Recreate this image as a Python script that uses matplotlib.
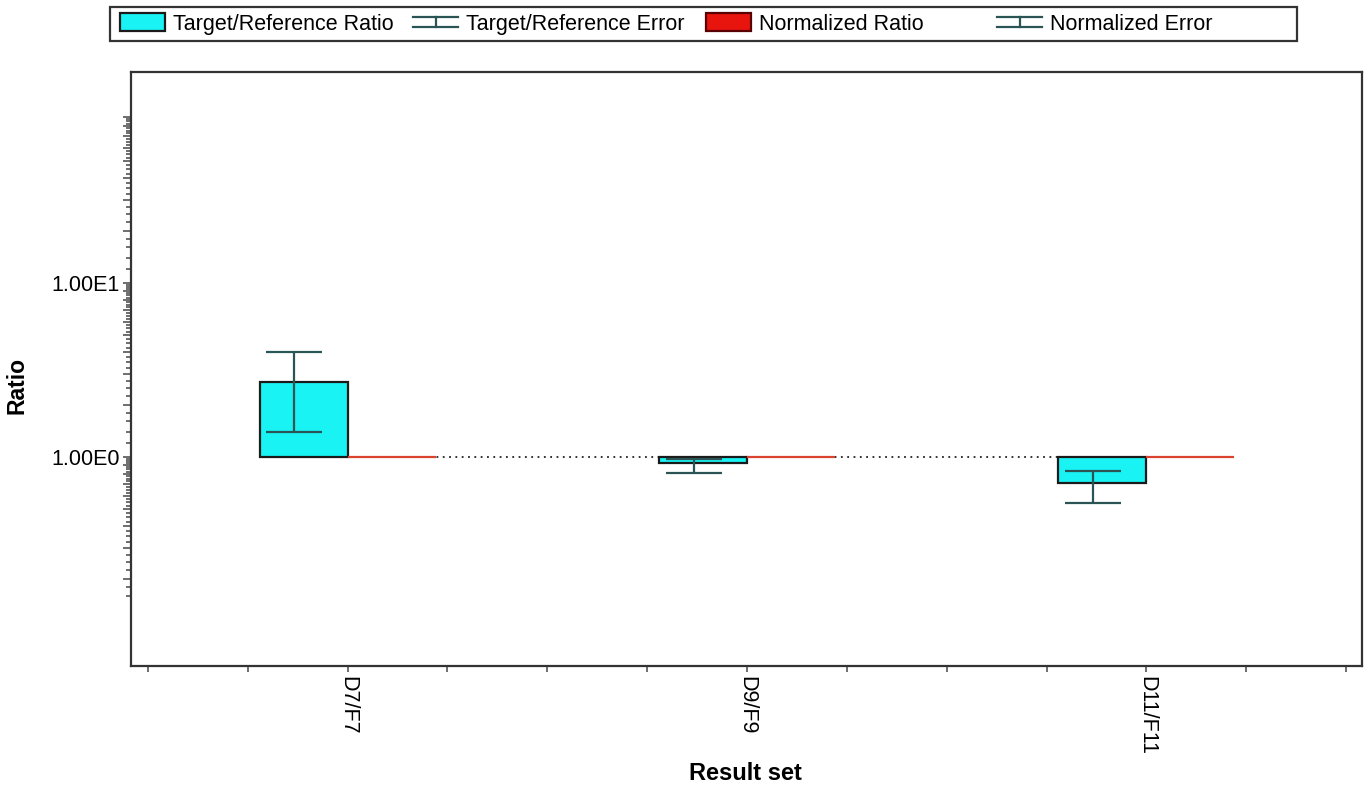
import numpy as np
import matplotlib
matplotlib.use("Agg")
import matplotlib.pyplot as plt
from matplotlib.lines import Line2D
from matplotlib.patches import Patch, Rectangle
from matplotlib.legend_handler import HandlerBase
from matplotlib.ticker import FixedLocator, NullFormatter, FuncFormatter

plt.rcParams['font.family'] = ['Liberation Sans', 'DejaVu Sans']

# data
categories = ["D7/F7", "D9/F9", "D11/F11"]
target_ratio = [2.70, 0.924, 0.711]
target_err_low = [1.39, 0.81, 0.546]
target_err_high = [4.00, 0.97, 0.834]
normalized_ratio = [1.0, 1.0, 1.0]

legend_labels = ["Target/Reference Ratio", "Target/Reference Error",
                 "Normalized Ratio", "Normalized Error"]

CYAN = "#19f3f3"
RED = "#e8140e"
ERR = "#2b5454"
EDGE = "#1a1a1a"


class ErrHandler(HandlerBase):
    '''draws the I-beam error symbol used in the legend'''
    def create_artists(self, legend, orig_handle, xdescent, ydescent,
                       width, height, fontsize, trans):
        cy = height / 2 - ydescent
        h = 7.5
        x0, x1 = -xdescent, width - xdescent
        xm = (x0 + x1) / 2
        kw = dict(color=ERR, lw=1.6, transform=trans)
        return [Line2D([x0, x1], [cy + h / 2, cy + h / 2], **kw),
                Line2D([x0, x1], [cy - h / 2, cy - h / 2], **kw),
                Line2D([xm, xm], [cy - h / 2, cy + h / 2], **kw)]


W, H = 1370, 786
fig = plt.figure(figsize=(W / 100, H / 100), dpi=100)
ax = fig.add_axes([131 / W, 1 - 666 / H, (1362 - 131) / W, (666 - 72) / H])

x = np.arange(len(categories)) * 4 + 2
bw = 0.88

# dotted baseline between the first and last group
ax.plot([x[0], x[-1]], [1, 1], linestyle=(0, (1, 2.5)), color="#222222", lw=1.3, zorder=1)

# target/reference bars start at 1 on the log axis
ax.bar(x, np.array(target_ratio) - 1, bottom=1, width=-bw, align="edge",
       color=CYAN, edgecolor=EDGE, linewidth=1.6, zorder=2)
ax.bar(x, np.array(normalized_ratio) - 1, bottom=1, width=bw, align="edge",
       color=RED, edgecolor="#d9432f", linewidth=1.6, zorder=2)

ex = x - bw / 2 - 0.095
ratio = np.array(target_ratio)
yerr = [ratio - np.array(target_err_low), np.array(target_err_high) - ratio]
ax.errorbar(ex, ratio, yerr=yerr, fmt="none", ecolor=ERR, elinewidth=1.6,
            capsize=20, capthick=1.6, zorder=3)

ax.set_yscale("log")
ax.set_ylim(10 ** -1.201, 10 ** 2.2126)
ax.set_xlim(-0.17, 12.16)

# y ticks: long marks at each digit, short marks in between
long_ticks = [d * 10.0 ** k for k in (-1, 0, 1) for d in range(1, 10)]
long_ticks = [t for t in long_ticks if 0.14 <= t <= 90]
short_ticks = []
for k in (-1, 0, 1):
    for d in range(1, 10):
        steps = (0.2, 0.4, 0.6, 0.8) if d == 1 else (0.25, 0.5, 0.75)
        short_ticks += [(d + s) * 10.0 ** k for s in steps]
short_ticks = [t for t in short_ticks if 0.14 <= t <= 90]
ax.yaxis.set_major_locator(FixedLocator(long_ticks))
ax.yaxis.set_major_formatter(FuncFormatter(
    lambda v, p: {1.0: "1.00E0", 10.0: "1.00E1"}.get(round(v, 6), "")))
ax.yaxis.set_minor_locator(FixedLocator(short_ticks))
ax.yaxis.set_minor_formatter(NullFormatter())
ax.tick_params(axis="y", which="major", length=6, width=1.2, color="#555555",
               labelsize=15.5, pad=2)
ax.tick_params(axis="y", which="minor", length=3.5, width=1.2, color="#555555")

ax.set_xticks(x)
ax.set_xticklabels(categories, rotation=-90, fontsize=15.5)
ax.set_xticks(np.arange(0, 13), minor=True)
ax.tick_params(axis="x", which="both", length=4, width=1.2, color="#555555", pad=3)

for s in ax.spines.values():
    s.set_color("#333333")
    s.set_linewidth(1.6)

ax.set_ylabel("Ratio", fontsize=16.5, fontweight="bold")
ax.yaxis.set_label_coords(-0.083, 0.473)
fig.text(745 / W, 1 - 773 / H, "Result set", fontsize=17, fontweight="bold",
         ha="center", va="center")

# legend: framed strip with four fixed columns
fig.add_artist(Rectangle((110 / W, 1 - 41 / H), (1297 - 110) / W, 34 / H,
                         transform=fig.transFigure, facecolor="white",
                         edgecolor="#333333", linewidth=1.6))
handles = [Patch(facecolor=CYAN, edgecolor=EDGE, linewidth=1.6),
           Line2D([], []),
           Patch(facecolor=RED, edgecolor="#5a0000", linewidth=1.6),
           Line2D([], [])]
col_x = [120, 413, 706, 997]
for h, lab, cx in zip(handles, legend_labels, col_x):
    hm = {type(h): ErrHandler()} if isinstance(h, Line2D) else None
    fig.legend([h], [lab], loc="center left", bbox_to_anchor=(cx / W, 1 - 24 / H),
               frameon=False, fontsize=15.5, borderpad=0, borderaxespad=0,
               handlelength=2.1, handleheight=0.85, handletextpad=0.35,
               handler_map=hm)

fig.savefig("out.png", dpi=100)
